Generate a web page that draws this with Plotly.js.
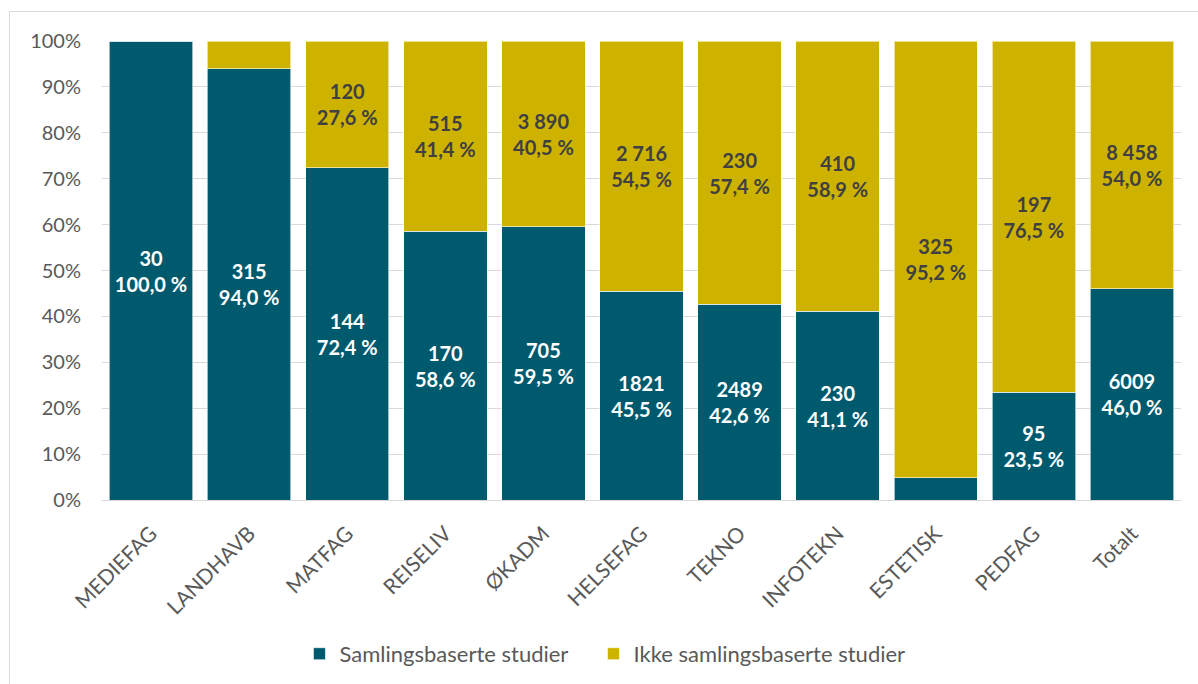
<!DOCTYPE html>
<html>
<head>
<meta charset="utf-8">
<script src="https://cdn.plot.ly/plotly-3.0.1.min.js"></script>
<style>
  html, body { margin: 0; padding: 0; width: 1198px; height: 684px; overflow: hidden; background: #ffffff; }
  #frame { position: absolute; left: 9px; top: 11px; width: 1300px; height: 800px; border: 1px solid #d9d9d9; box-sizing: border-box; pointer-events: none; }
  #chart { position: absolute; left: 0; top: 0; width: 1198px; height: 684px; }
</style>
</head>
<body>
<div id="frame"></div>
<div id="chart"></div>
<script>
const categories = ["MEDIEFAG","LANDHAVB","MATFAG","REISELIV","ØKADM","HELSEFAG","TEKNO","INFOTEKN","ESTETISK","PEDFAG","Totalt"];
const samlingShare = [1.000, 0.940, 0.724, 0.586, 0.595, 0.455, 0.426, 0.411, 0.048, 0.235, 0.460];
const ikkeShare    = [0.000, 0.060, 0.276, 0.414, 0.405, 0.545, 0.574, 0.589, 0.952, 0.765, 0.540];
const samlingCount = ["30","315","144","170","705","1821","2489","230","","95","6009"];
const ikkeCount    = ["","","120","515","3 890","2 716","230","410","325","197","8 458"];

const fmtPct = v => (v * 100).toFixed(1).replace('.', ',') + ' %';
const makeText = (counts, shares) => counts.map((c, i) => c === "" ? "" : "<b>" + c + "</b><br><b>" + fmtPct(shares[i]) + "</b>");

const FONT = "Lato, 'Open Sans', sans-serif";
const TEAL = "#005A6E";
const GOLD = "#CDB300";

const traces = [
  {
    type: "bar", name: "Samlingsbaserte studier", x: categories, y: samlingShare, legend: "legend",
    marker: { color: TEAL, line: { color: "rgba(255,255,255,0.6)", width: 1 } },
    text: makeText(samlingCount, samlingShare), textposition: "inside", insidetextanchor: "middle",
    textangle: 0, constraintext: "none", textfont: { family: FONT, size: 20, color: "#ffffff" },
    hoverinfo: "skip"
  },
  {
    type: "bar", name: "Ikke samlingsbaserte studier", x: categories, y: ikkeShare, legend: "legend2",
    marker: { color: GOLD, line: { color: "rgba(255,255,255,0.6)", width: 1 } },
    text: makeText(ikkeCount, ikkeShare), textposition: "inside", insidetextanchor: "middle",
    textangle: 0, constraintext: "none", textfont: { family: FONT, size: 20, color: "#404040" },
    hoverinfo: "skip"
  }
];

const legendBase = {
  orientation: "h", xanchor: "left", yref: "container", y: 0.044, yanchor: "middle",
  font: { family: FONT, size: 22, color: "#595959" }, itemwidth: 30, bgcolor: "rgba(0,0,0,0)"
};

const layout = {
  width: 1198, height: 684,
  margin: { l: 102, r: 17, t: 41, b: 184 },
  paper_bgcolor: "rgba(0,0,0,0)", plot_bgcolor: "rgba(0,0,0,0)",
  barmode: "stack", bargap: 0.15,
  font: { family: FONT, color: "#595959", size: 17 },
  showlegend: true,
  legend: Object.assign({}, legendBase, { x: 0.183 }),
  legend2: Object.assign({}, legendBase, { x: 0.4555 }),
  xaxis: {
    type: "category", tickangle: -45, showgrid: false, showline: true, linecolor: "#d9d9d9", linewidth: 1,
    ticks: "", ticklabelstandoff: 12, tickfont: { family: FONT, size: 21, color: "#595959" }
  },
  yaxis: {
    range: [0, 1], dtick: 0.1, tickformat: ".0%", showgrid: true, gridcolor: "#d9d9d9", gridwidth: 1,
    zeroline: false, showline: false, ticks: "", ticklabelstandoff: 20,
    tickfont: { family: FONT, size: 20, color: "#595959" }
  }
};

Plotly.newPlot("chart", traces, layout, { displayModeBar: false, staticPlot: true });
</script>
</body>
</html>
